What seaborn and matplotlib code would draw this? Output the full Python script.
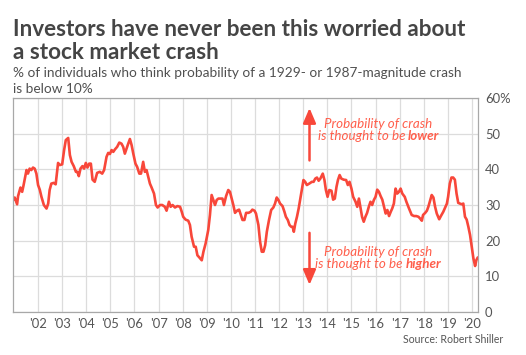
import matplotlib
matplotlib.use("Agg")
import matplotlib.pyplot as plt
import seaborn as sns
import pandas as pd

# ---- data (decimal year, % of individuals) ----
years = [
    2000.97, 2001.03, 2001.13, 2001.17, 2001.27, 2001.34, 2001.40, 2001.52, 2001.58, 2001.65,
    2001.72, 2001.79, 2001.86, 2001.93, 2002.00, 2002.07, 2002.14, 2002.24, 2002.35, 2002.42,
    2002.48, 2002.55, 2002.65, 2002.73, 2002.83, 2002.90, 2003.00, 2003.08, 2003.15, 2003.25,
    2003.32, 2003.39, 2003.48, 2003.57, 2003.63, 2003.69, 2003.76, 2003.84, 2003.91, 2003.98,
    2004.05, 2004.12, 2004.19, 2004.26, 2004.35, 2004.45, 2004.56, 2004.66, 2004.74, 2004.84,
    2004.91, 2004.98, 2005.05, 2005.12, 2005.19, 2005.28, 2005.37, 2005.46, 2005.53, 2005.60,
    2005.67, 2005.74, 2005.81, 2005.88, 2005.95, 2006.04, 2006.11, 2006.20, 2006.27, 2006.36,
    2006.43, 2006.50, 2006.57, 2006.64, 2006.71, 2006.81, 2006.89, 2006.96, 2007.06, 2007.15,
    2007.26, 2007.33, 2007.43, 2007.50, 2007.58, 2007.68, 2007.78, 2007.89, 2007.96, 2008.02,
    2008.12, 2008.23, 2008.30, 2008.37, 2008.47, 2008.54, 2008.61, 2008.69, 2008.79, 2008.86,
    2008.95, 2009.06, 2009.13, 2009.20, 2009.27, 2009.34, 2009.41, 2009.48, 2009.58, 2009.65,
    2009.71, 2009.80, 2009.89, 2009.96, 2010.03, 2010.10, 2010.17, 2010.27, 2010.34, 2010.41,
    2010.48, 2010.56, 2010.63, 2010.73, 2010.82, 2010.89, 2010.98, 2011.04, 2011.14, 2011.21,
    2011.28, 2011.35, 2011.42, 2011.49, 2011.58, 2011.67, 2011.76, 2011.83, 2011.90, 2011.97,
    2012.04, 2012.14, 2012.22, 2012.28, 2012.36, 2012.43, 2012.50, 2012.56, 2012.61, 2012.67,
    2012.74, 2012.81, 2012.88, 2012.94, 2013.01, 2013.08, 2013.15, 2013.25, 2013.36, 2013.43,
    2013.50, 2013.57, 2013.64, 2013.71, 2013.81, 2013.88, 2013.94, 2014.01, 2014.08, 2014.17,
    2014.24, 2014.31, 2014.38, 2014.44, 2014.51, 2014.58, 2014.68, 2014.78, 2014.85, 2014.92,
    2015.00, 2015.07, 2015.17, 2015.24, 2015.31, 2015.38, 2015.44, 2015.51, 2015.58, 2015.65,
    2015.72, 2015.79, 2015.86, 2015.93, 2016.00, 2016.07, 2016.14, 2016.21, 2016.28, 2016.35,
    2016.42, 2016.49, 2016.56, 2016.63, 2016.69, 2016.76, 2016.83, 2016.90, 2016.97, 2017.04,
    2017.11, 2017.21, 2017.28, 2017.39, 2017.50, 2017.60, 2017.69, 2017.78, 2017.85, 2017.92,
    2017.97, 2018.06, 2018.13, 2018.19, 2018.26, 2018.33, 2018.40, 2018.47, 2018.54, 2018.64,
    2018.71, 2018.81, 2018.89, 2018.96, 2019.01, 2019.08, 2019.15, 2019.22, 2019.29, 2019.36,
    2019.43, 2019.50, 2019.57, 2019.64, 2019.71, 2019.78, 2019.85, 2019.92, 2019.99, 2020.06,
    2020.13, 2020.18, 2020.24,
]
pct_confident = [
    31.4, 32.1, 30.2, 32.5, 34.9, 33.7, 35.6, 39.8, 38.8, 40.2,
    39.8, 40.5, 40.2, 38.8, 35.6, 34.3, 32.3, 30.0, 29.0, 30.4,
    34.2, 36.0, 36.2, 35.8, 41.8, 41.2, 41.4, 45.4, 48.2, 48.8,
    44.0, 42.1, 40.9, 39.3, 39.3, 38.1, 40.2, 40.9, 40.2, 41.8,
    40.5, 41.6, 41.6, 37.1, 36.5, 39.0, 39.3, 38.8, 39.8, 43.5,
    44.6, 44.3, 45.4, 44.9, 45.6, 46.3, 47.5, 47.2, 46.3, 44.4,
    45.8, 47.2, 48.5, 46.8, 44.4, 41.6, 40.7, 38.8, 38.8, 42.1,
    39.3, 39.8, 37.9, 36.0, 34.9, 33.2, 30.0, 29.3, 30.0, 30.0,
    29.5, 28.4, 30.9, 29.5, 30.0, 29.3, 29.7, 29.5, 28.1, 26.7,
    25.9, 25.6, 24.4, 21.1, 18.3, 18.3, 15.9, 15.3, 14.5, 16.9,
    19.2, 23.0, 27.2, 32.8, 31.4, 30.0, 31.4, 31.8, 31.8, 31.8,
    30.0, 32.5, 34.2, 33.7, 31.8, 30.0, 27.8, 28.5, 28.7, 27.2,
    25.8, 25.8, 27.8, 27.8, 28.1, 28.7, 28.4, 27.6, 24.4, 19.7,
    16.9, 16.9, 18.7, 22.5, 25.8, 28.6, 29.3, 30.4, 32.1, 31.4,
    30.4, 29.7, 28.1, 26.7, 25.8, 24.4, 23.9, 23.9, 22.5, 24.8,
    26.7, 29.0, 31.8, 34.2, 37.0, 36.5, 35.6, 36.0, 36.5, 36.5,
    37.4, 37.7, 36.8, 37.4, 38.8, 37.0, 34.2, 32.3, 34.2, 34.0,
    31.5, 31.8, 35.1, 37.0, 38.4, 37.4, 37.1, 37.0, 35.6, 36.5,
    34.6, 32.3, 30.9, 29.5, 31.8, 29.0, 26.7, 25.3, 26.7, 27.8,
    29.5, 30.9, 30.0, 31.4, 32.3, 34.3, 33.7, 32.5, 31.5, 29.5,
    27.6, 28.6, 26.9, 28.1, 29.0, 30.4, 34.6, 33.2, 33.7, 34.6,
    33.2, 32.3, 30.9, 29.0, 27.2, 26.9, 26.9, 26.7, 26.2, 25.6,
    27.2, 27.8, 28.4, 29.5, 31.2, 32.8, 32.1, 29.5, 27.6, 26.0,
    26.9, 28.1, 29.3, 30.4, 32.3, 36.0, 37.7, 37.7, 37.1, 33.2,
    30.6, 30.4, 30.2, 30.4, 26.7, 25.9, 23.9, 21.6, 18.3, 15.0,
    12.9, 14.5, 15.3,
]
x_ticks = list(range(2002, 2021))
x_tick_labels = ["'%02d" % (y % 100) for y in x_ticks]
y_ticks = [0, 10, 20, 30, 40, 50, 60]
y_tick_labels = ["0", "10", "20", "30", "40", "50", "60%"]

title_lines = ["Investors have never been this worried about", "a stock market crash"]
subtitle_lines = ["% of individuals who think probability of a 1929- or 1987-magnitude crash",
                  "is below 10%"]
source_text = "Source: Robert Shiller"

# ---- style ----
sns.set_theme(style="white")
plt.rcParams["font.family"] = ["Lato", "DejaVu Sans"]

W, H, DPI = 526, 355, 100
LINE = "#f8473a"
ANNO = "#ff5f4c"
GRID = "#dcdcdc"
SPINE = "#a8a8a8"
TICK = "#555555"

fig = plt.figure(figsize=(W / DPI, H / DPI), dpi=DPI)
ax = fig.add_axes([13 / W, 1 - 312 / H, (478 - 13) / W, (312 - 98) / H])

df = pd.DataFrame({"year": years, "pct": pct_confident})
sns.lineplot(data=df, x="year", y="pct", ax=ax, color=LINE, linewidth=1.9, sort=False)

ax.set_xlim(2000.96, 2020.25)
ax.set_ylim(0, 60)
ax.set_xticks(x_ticks)
ax.set_xticklabels(x_tick_labels)
ax.set_yticks(y_ticks)
ax.set_yticklabels(y_tick_labels)
ax.yaxis.tick_right()
ax.tick_params(axis="both", length=0, labelsize=9.4, colors=TICK)
ax.tick_params(axis="x", pad=4)
ax.tick_params(axis="y", pad=5)
for lbl in ax.get_yticklabels():
    lbl.set_horizontalalignment("left")
ax.set_xlabel("")
ax.set_ylabel("")
ax.grid(True, color=GRID, linewidth=0.9)
ax.set_axisbelow(True)
for s in ax.spines.values():
    s.set_visible(True)
    s.set_color(SPINE)
    s.set_linewidth(0.9)

# ---- titles ----
fig.text(13 / W, 1 - 36 / H, title_lines[0], fontsize=16.2, fontweight="bold",
         color="#454545", va="baseline", ha="left")
fig.text(13 / W, 1 - 59 / H, title_lines[1], fontsize=16.2, fontweight="bold",
         color="#454545", va="baseline", ha="left")
fig.text(13 / W, 1 - 77 / H, subtitle_lines[0], fontsize=9.8,
         color="#505050", va="baseline", ha="left")
fig.text(13 / W, 1 - 93 / H, subtitle_lines[1], fontsize=9.8,
         color="#505050", va="baseline", ha="left")
fig.text(503 / W, 1 - 343 / H, source_text, fontsize=7.6, color="#555555",
         va="baseline", ha="right")

# ---- annotations ----
arrow_x = 2013.26
ax.annotate("", xy=(arrow_x, 57.2), xytext=(arrow_x, 42.5),
            arrowprops=dict(arrowstyle="-|>,head_width=0.32,head_length=0.75",
                            color=LINE, lw=1.8, shrinkA=0, shrinkB=0))
ax.annotate("", xy=(arrow_x, 7.6), xytext=(arrow_x, 22.2),
            arrowprops=dict(arrowstyle="-|>,head_width=0.32,head_length=0.75",
                            color=LINE, lw=1.8, shrinkA=0, shrinkB=0))

ANNO_FS = 9.6


def centered_mixed(xc, yv, parts):
    texts = []
    for s, w in parts:
        t = ax.annotate(s, xy=(xc, yv), xycoords="data", textcoords="offset points",
                        xytext=(0, 0), ha="left", va="baseline", fontsize=ANNO_FS,
                        style="italic", fontweight=w, color=ANNO)
        texts.append(t)
    fig.canvas.draw()
    r = fig.canvas.get_renderer()
    widths = [t.get_window_extent(r).width for t in texts]
    gap = 2.8
    total = sum(widths) + gap * (len(widths) - 1)
    x0 = -total / 2
    for t, wpx in zip(texts, widths):
        t.set_position((x0 * 72 / DPI, 0))
        x0 += wpx + gap


def centered_plain(xc, yv, s):
    ax.text(xc, yv, s, ha="center", va="baseline", fontsize=ANNO_FS,
            style="italic", color=ANNO)


text_x = 2016.12
centered_plain(text_x, 51.5, "Probability of crash")
centered_mixed(text_x, 48.1, [("is thought to be", "normal"), ("lower", "bold")])
centered_plain(text_x, 15.8, "Probability of crash")
centered_mixed(text_x, 12.4, [("is thought to be", "normal"), ("higher", "bold")])

fig.savefig("out.png", dpi=DPI)
